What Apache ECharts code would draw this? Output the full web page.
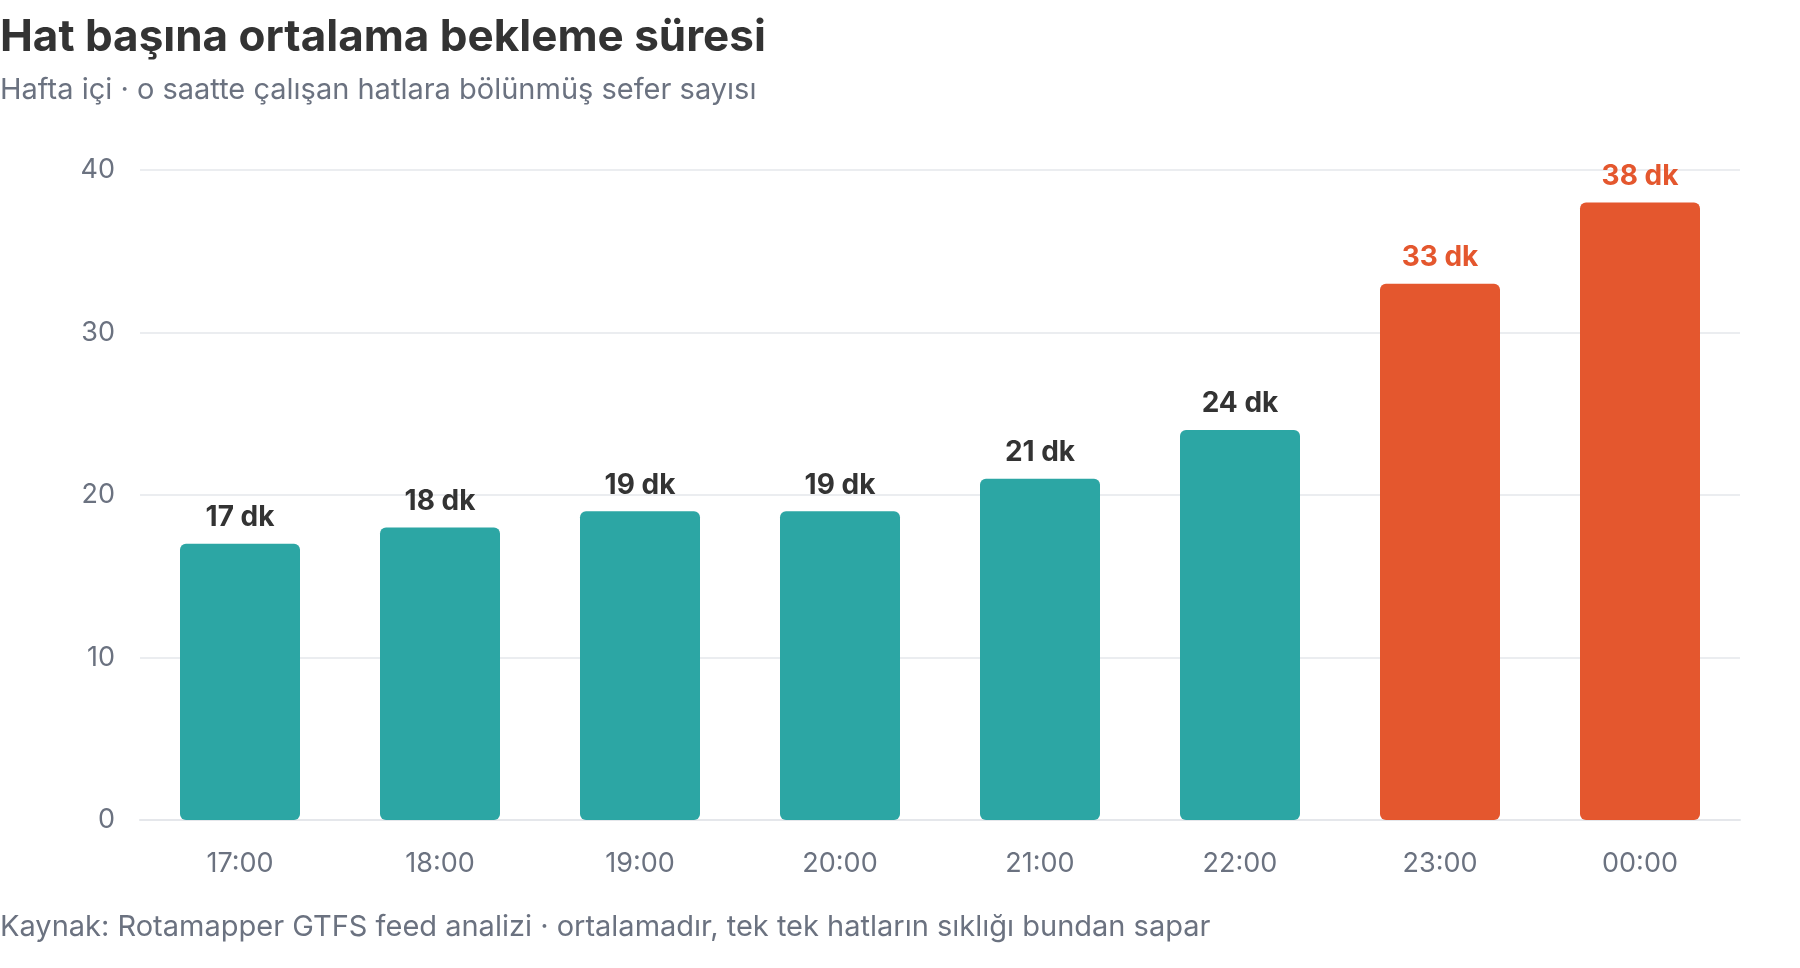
<!DOCTYPE html>
<html>
<head>
<meta charset="utf-8">
<title>Hat başına ortalama bekleme süresi</title>
<script src="https://cdn.jsdelivr.net/npm/echarts@6/dist/echarts.min.js"></script>
<style>
  html, body { margin: 0; padding: 0; background: #fff; }
  #chart { width: 1800px; height: 968px; }
</style>
</head>
<body>
<div id="chart"></div>
<script>
// saat dilimleri ve ortalama bekleme (dk)
const hours = ["17:00", "18:00", "19:00", "20:00", "21:00", "22:00", "23:00", "00:00"];
const waitMinutes = [17, 18, 19, 19, 21, 24, 33, 38];
// gece saatleri vurgulanıyor
const lateNight = ["23:00", "00:00"];
const yTicks = [0, 10, 20, 30, 40];

const teal = "#2ca6a4";
const orange = "#e4572e";
const font = "Inter, 'Noto Sans', sans-serif";

let dom = document.getElementById("chart");
let myChart = echarts.init(dom, null, { renderer: "canvas" });

let barData = waitMinutes.map((v, i) => {
  let late = lateNight.includes(hours[i]);
  return {
    value: v,
    itemStyle: { color: late ? orange : teal },
    label: { color: late ? orange : "#333333" }
  };
});

let option = {
  animation: false,
  textStyle: { fontFamily: font },
  title: {
    text: "Hat başına ortalama bekleme süresi",
    subtext: "Hafta içi · o saatte çalışan hatlara bölünmüş sefer sayısı",
    left: 0,
    top: 16,
    padding: 0,
    itemGap: 16,
    textStyle: { fontSize: 44, fontWeight: "bold", color: "#333333", fontFamily: font },
    subtextStyle: { fontSize: 29, color: "#6b7280", fontFamily: font }
  },
  graphic: [
    {
      type: "text",
      left: 0,
      top: 913,
      style: {
        text: "Kaynak: Rotamapper GTFS feed analizi · ortalamadır, tek tek hatların sıklığı bundan sapar",
        fontSize: 29,
        fill: "#6b7280",
        fontFamily: font
      }
    }
  ],
  grid: { left: 140, right: 60, top: 170, bottom: 148 },
  xAxis: {
    type: "category",
    data: hours,
    axisTick: { show: false },
    axisLine: { lineStyle: { color: "#e5e7eb", width: 2 } },
    axisLabel: { fontSize: 27, color: "#6b7280", margin: 30, fontFamily: font }
  },
  yAxis: {
    type: "value",
    min: yTicks[0],
    max: yTicks[yTicks.length - 1],
    interval: 10,
    axisLine: { show: false },
    axisTick: { show: false },
    splitLine: { lineStyle: { color: "#e5e7eb", width: 1.5 } },
    axisLabel: { fontSize: 27, color: "#6b7280", margin: 25, fontFamily: font }
  },
  series: [
    {
      type: "bar",
      data: barData,
      barWidth: "60%",
      itemStyle: { borderRadius: 6 },
      label: {
        show: true,
        position: "top",
        distance: 12,
        fontSize: 28,
        fontWeight: "bold",
        fontFamily: font,
        formatter: p => p.value + " dk"
      }
    }
  ]
};

myChart.setOption(option);
window.addEventListener("resize", myChart.resize);
</script>
</body>
</html>
